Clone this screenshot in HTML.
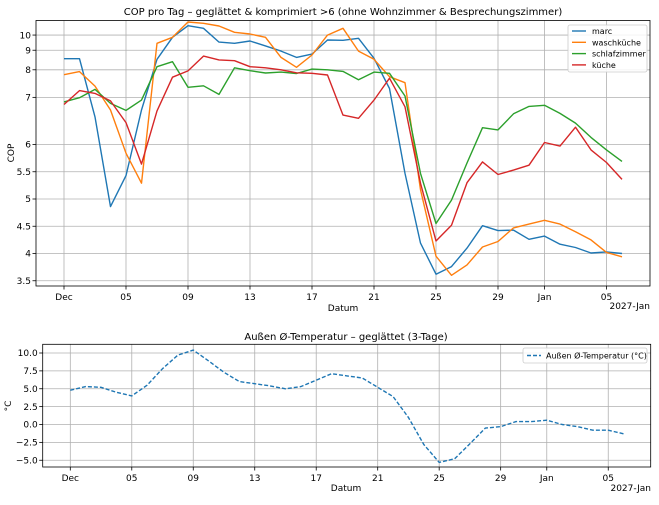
<!DOCTYPE html>
<html><head><meta charset="utf-8"><style>
body{margin:0;background:#fff;}
svg text{font-family:"DejaVu Sans","Liberation Sans",sans-serif;fill:#000;}
</style></head><body>
<svg id="c" width="659" height="500" xmlns="http://www.w3.org/2000/svg"></svg>
<script>
const days = Array.from({length:37},(_,i)=>i); // Dec 1 .. Jan 6
const marc = [8.53,8.53,6.5,4.86,5.43,6.66,8.5,9.84,10.74,10.52,9.51,9.43,9.58,9.26,8.95,8.6,8.78,9.65,9.63,9.77,8.55,7.28,5.47,4.19,3.62,3.76,4.10,4.51,4.42,4.43,4.26,4.32,4.17,4.11,4.01,4.03,4.0];
const wasch = [7.79,7.92,7.36,6.66,5.84,5.29,9.43,9.84,11.06,10.94,10.71,10.21,10.08,9.84,8.6,8.11,8.73,10.0,10.52,8.95,8.5,7.71,7.48,5.17,3.95,3.6,3.79,4.12,4.22,4.47,4.54,4.61,4.54,4.40,4.25,4.02,3.94];
const schlaf = [6.87,6.99,7.25,6.83,6.65,6.92,8.14,8.38,7.32,7.37,7.09,8.09,7.96,7.86,7.9,7.84,8.03,8.0,7.93,7.59,7.9,7.85,7.04,5.47,4.55,4.98,5.66,6.28,6.24,6.57,6.75,6.78,6.58,6.37,6.11,5.9,5.69];
const kueche = [6.8,7.21,7.12,6.9,6.38,5.64,6.64,7.69,7.95,8.67,8.47,8.43,8.14,8.09,8.0,7.87,7.85,7.78,6.54,6.47,6.92,7.65,6.74,5.29,4.23,4.52,5.3,5.68,5.45,5.53,5.62,6.03,5.97,6.29,5.9,5.67,5.36];
const temp = [4.8,5.3,5.2,4.5,4.0,5.5,7.8,9.7,10.4,8.9,7.3,6.0,5.7,5.4,5.0,5.3,6.2,7.1,6.8,6.5,5.2,3.9,1.0,-2.8,-5.3,-4.8,-2.7,-0.5,-0.3,0.4,0.4,0.6,0.0,-0.3,-0.8,-0.8,-1.3];
const xTickDays = [0,4,8,12,16,20,24,28,31,35];
const xTickLabels = ["Dec","05","09","13","17","21","25","29","Jan","05"];
const copTicks = [3.5,4,4.5,5,5.5,6,7,8,9,10];
const copTickLabels = ["3.5","4","4.5","5","5.5","6","7","8","9","10"];
const tempTicks = [-5,-2.5,0,2.5,5,7.5,10];
const tempTickLabels = ["\u22125.0","\u22122.5","0.0","2.5","5.0","7.5","10.0"];

const svg=document.getElementById('c');
const NS="http://www.w3.org/2000/svg";
function mk(tag,attrs,parent){const e=document.createElementNS(NS,tag);for(const k in attrs)e.setAttribute(k,attrs[k]);(parent||svg).appendChild(e);return e;}
function txt(s,x,y,size,anchor,name,parent){const t=mk('text',{x:x,y:y,'font-size':size,'text-anchor':anchor||'middle'},parent);t.textContent=s;


return t;}

const T={l:36,r:650,t:20.5,b:286};
const xTop=d=>64+d*15.5;
function yCop(v){return v<=6?144.5+(6-v)*54.5:144.5-68*Math.log(v-5);}
const B={l:42.7,r:650.7,t:344.3,b:467};
const xBot=d=>70.3+d*15.37;
const yTemp=v=>424.5-v*7.15;

function axes(box,xf,yticks,ylabels,yf,gname){
  const g=mk('g',{});
  
  
  xTickDays.forEach((d,i)=>{const x=xf(d);
    const l=mk('line',{x1:x,x2:x,y1:box.t,y2:box.b,stroke:'#b0b0b0','stroke-width':0.8},g);
    
    
    mk('line',{x1:x,x2:x,y1:box.b,y2:box.b+3.5,stroke:'#000','stroke-width':0.8},g);
    txt(xTickLabels[i],x,box.b+14,9,'middle','x-tick-label',g);});
  yticks.forEach((v,i)=>{const y=yf(v);
    const l=mk('line',{x1:box.l,x2:box.r,y1:y,y2:y,stroke:'#b0b0b0','stroke-width':0.8},g);
    
    
    mk('line',{x1:box.l-3.5,x2:box.l,y1:y,y2:y,stroke:'#000','stroke-width':0.8},g);
    txt(ylabels[i],box.l-5,y+3.2,9,'end','y-tick-label',g);});
  const r=mk('rect',{x:box.l,y:box.t,width:box.r-box.l,height:box.b-box.t,fill:'none',stroke:'#000','stroke-width':0.8},g);
  
  
}
axes(T,xTop,copTicks,copTickLabels,yCop,'cop-axes');
axes(B,xBot,tempTicks,tempTickLabels,yTemp,'temp-axes');

function line(vals,xf,yf,color,name,dash){
  const pts=vals.map((v,i)=>xf(days[i]).toFixed(1)+','+yf(v).toFixed(1)).join(' ');
  const p=mk('polyline',{points:pts,fill:'none',stroke:color,'stroke-width':1.4,'stroke-linejoin':'round'});
  if(dash)p.setAttribute('stroke-dasharray',dash);
  
  
}
line(marc,xTop,yCop,'#1f77b4','line-marc');
line(wasch,xTop,yCop,'#ff7f0e','line-waschkueche');
line(schlaf,xTop,yCop,'#2ca02c','line-schlafzimmer');
line(kueche,xTop,yCop,'#d62728','line-kueche');
line(temp,xBot,yTemp,'#1f77b4','line-temperature','4,2');

txt('COP pro Tag \u2013 geglättet & komprimiert >6 (ohne Wohnzimmer & Besprechungszimmer)',343,15,10,'middle','top-chart-title');
txt('Datum',343,311,9,'middle','top-x-axis-title');
txt('2027-Jan',650,309,9,'end','top-x-offset-label');
const yl=txt('COP',14,153,9,'middle','top-y-axis-title');yl.setAttribute('transform','rotate(-90 14 153)');
txt('Außen Ø-Temperatur \u2013 geglättet (3-Tage)',346,340,10,'middle','bottom-chart-title');
txt('Datum',346,491,9,'middle','bottom-x-axis-title');
txt('2027-Jan',651,491,9,'end','bottom-x-offset-label');
const yl2=txt('°C',11,406,9,'middle','bottom-y-axis-title');yl2.setAttribute('transform','rotate(-90 11 406)');

const lg=mk('g',{});


mk('rect',{x:568,y:25,width:79,height:47,rx:2,fill:'#fff','fill-opacity':0.85,stroke:'#ccc','stroke-width':0.8},lg);
[['marc','#1f77b4'],['waschküche','#ff7f0e'],['schlafzimmer','#2ca02c'],['küche','#d62728']].forEach((e,i)=>{
  const y=31+i*11.3;
  const g=mk('g',{},lg);
  
  
  mk('line',{x1:572,x2:586,y1:y,y2:y,stroke:e[1],'stroke-width':1.4},g);
  txt(e[0],592,y+3,8,'start','legend-label',g);
});
const lg2=mk('g',{});


mk('rect',{x:523,y:348,width:124,height:15,rx:2,fill:'#fff','fill-opacity':0.85,stroke:'#ccc','stroke-width':0.8},lg2);
mk('line',{x1:527,x2:541,y1:355.5,y2:355.5,stroke:'#1f77b4','stroke-width':1.4,'stroke-dasharray':'4,2'},lg2);
txt('Außen Ø-Temperatur (°C)',546,358.5,8,'start','legend-label',lg2);
</script>
</body></html>
